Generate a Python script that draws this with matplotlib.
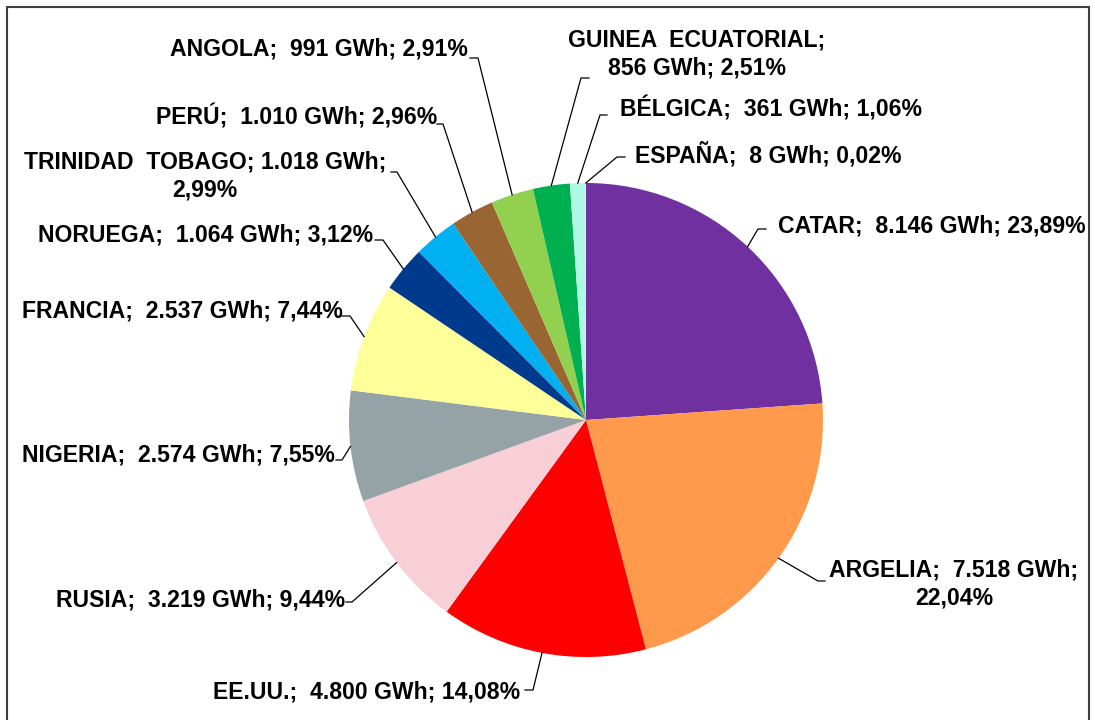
import numpy as np
import matplotlib.pyplot as plt
from matplotlib.patches import Rectangle

# ======================================
# DATA (GWh por país de origen)
# ======================================

countries = ["CATAR", "ARGELIA", "EE.UU.", "RUSIA", "NIGERIA", "FRANCIA",
             "NORUEGA", "TRINIDAD  TOBAGO", "PERÚ", "ANGOLA",
             "GUINEA  ECUATORIAL", "BÉLGICA", "ESPAÑA"]
gwh = [8146, 7518, 4800, 3219, 2574, 2537, 1064, 1018, 1010, 991, 856, 361, 8]
pct = ["23,89", "22,04", "14,08", "9,44", "7,55", "7,44", "3,12", "2,99",
       "2,96", "2,91", "2,51", "1,06", "0,02"]
colors = ["#7030A0", "#FF9A4D", "#FF0000", "#F8CFD6", "#95A3A6", "#FFFF99",
          "#003A8C", "#00B0F0", "#996633", "#92D050", "#00B050", "#B0F8E6",
          "#CCFFFF"]

# ======================================
# LABEL LAYOUT (image pixels, y down)
# ======================================

W, H = 1095, 720
CX, CY, R = 586, 420, 237

label_xy = [(778, 226, "left"), (954, 584, "center"), (520, 692, "right"),
            (345, 600, "right"), (335, 455, "right"), (343, 311, "right"),
            (373, 235, "right"), (205, 176, "center"), (437, 117, "right"),
            (468, 49, "right"), (697, 54, "center"), (620, 109, "left"),
            (635, 155, "left")]
elbows = [((758, 229), (766, 229)), ((818, 581), (825, 581)),
          ((533, 690), (525, 690)), ((352, 602), (346, 602)),
          ((342, 460), (336, 460)), ((350, 316), (342, 316)),
          ((383, 240), (375, 240)), ((397, 172), (391, 172)),
          ((443, 124), (437, 124)), ((478, 58), (470, 58)),
          ((581, 78), (589, 78)), ((600, 115), (607, 115)),
          ((617, 157), (625, 157))]


def fy(y):
    return H - y


def make_label(name, value, p):
    num = f"{value:,}".replace(",", ".")
    if name == "ARGELIA":
        return f"{name};  {num} GWh;\n{p}%"
    if name == "TRINIDAD  TOBAGO":
        return f"{name}; {num} GWh;\n{p}%"
    if name == "GUINEA  ECUATORIAL":
        return f"{name};\n{num} GWh; {p}%"
    return f"{name};  {num} GWh; {p}%"


fig = plt.figure(figsize=(W / 100, H / 100), dpi=100)
ax = fig.add_axes([0, 0, 1, 1])

wedges, _ = ax.pie(gwh, colors=colors, startangle=90, counterclock=False,
                   radius=R, center=(CX, fy(CY)), frame=True,
                   wedgeprops=dict(linewidth=0))
ax.set_xlim(0, W)
ax.set_ylim(0, H)
ax.set_aspect("equal")
ax.axis("off")

for i, w in enumerate(wedges):
    mid = np.deg2rad((w.theta1 + w.theta2) / 2)
    ex = CX + R * np.cos(mid)
    ey = fy(CY) + R * np.sin(mid)
    (x1, y1), (x2, y2) = elbows[i]
    ax.plot([ex, x1, x2], [ey, fy(y1), fy(y2)], color="black", lw=0.9)
    lx, ly, ha = label_xy[i]
    ax.text(lx, fy(ly), make_label(countries[i], gwh[i], pct[i]),
            ha=ha, va="center", multialignment="center",
            fontsize=16.6, fontweight="bold", family="Liberation Sans",
            linespacing=1.3)

# chart border
ax.add_patch(Rectangle((7, -20), 1082, fy(7) + 20, fill=False,
                       edgecolor="#404040", lw=1.5, clip_on=False))

fig.savefig("out.png", dpi=100)
